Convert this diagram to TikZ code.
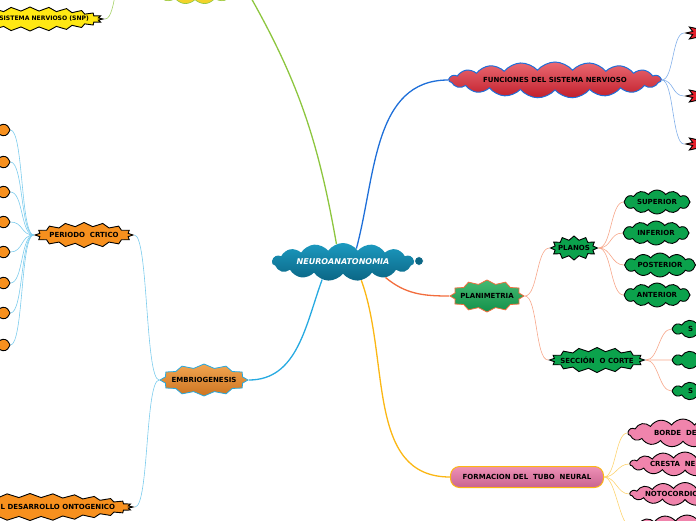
\documentclass[tikz,border=0pt]{standalone}
\usepackage{fontspec}
\setmainfont{DejaVu Sans}
\usetikzlibrary{shapes.symbols}

\definecolor{tealtop}{HTML}{1C9AC0}
\definecolor{tealbot}{HTML}{0B6685}
\definecolor{sncyel}{HTML}{F2D32A}
\definecolor{snpyel}{HTML}{FFE814}
\definecolor{linkgreen}{HTML}{8DC63F}
\definecolor{linkblue}{HTML}{1E6FD9}
\definecolor{linkred}{HTML}{F26D3D}
\definecolor{linkgold}{HTML}{FBB714}
\definecolor{linksky}{HTML}{27AAE1}
\definecolor{redtop}{HTML}{EA6972}
\definecolor{redbot}{HTML}{C11F2C}
\definecolor{redburst}{HTML}{E5202B}
\definecolor{greenfill}{HTML}{0BA24C}
\definecolor{plantop}{HTML}{45BA72}
\definecolor{planbot}{HTML}{13904A}
\definecolor{orangefill}{HTML}{F7901E}
\definecolor{embtop}{HTML}{F2A550}
\definecolor{embbot}{HTML}{CC7421}
\definecolor{pinkfill}{HTML}{F084AC}
\definecolor{formtop}{HTML}{EE90B6}
\definecolor{formbot}{HTML}{C9648F}

\tikzset{
  mmfont/.style={font=\fontsize{7}{8}\selectfont\bfseries},
  burst/.style={mmfont, starburst, starburst points=12, starburst point height=4pt, random starburst=0, draw=black, line width=0.9pt, inner sep=0pt},
  puff/.style={mmfont, cloud, cloud puffs=12, cloud puff arc=110, draw=black, line width=0.9pt, inner sep=0pt},
  mainlink/.style={line width=1.3pt},
  sublink/.style={line width=0.6pt},
}
\newcommand{\mmlabel}[1]{\makebox[0pt]{#1}}

\begin{document}
\begin{tikzpicture}[x=1pt,y=1pt]
    \useasboundingbox (0,0) rectangle (696,-520);
    \clip (0,0) rectangle (696,-520);
    % centre
    \node[cloud, cloud puffs=15, cloud puff arc=110, minimum width=142pt, minimum height=38pt, top color=tealtop, bottom color=tealbot, text=white, font=\fontsize{8}{9}\selectfont\bfseries\itshape, inner sep=0pt] (neuro) at (343,-262) {\mmlabel{NEUROANATONOMIA}};
    \node[circle, fill=tealbot, draw=white, line width=0.8pt, inner sep=0pt, minimum size=9pt] (globe) at (419,-261) {};
    % top
    \node[puff, cloud puffs=15, cloud puff arc=100, fill=sncyel, draw=linkgreen, line width=0.6pt, minimum width=98pt, minimum height=36pt] (snc) at (195,14) {};
    \node[burst, fill=snpyel, minimum width=146pt, minimum height=24pt, starburst points=24, font=\fontsize{6.1}{7}\selectfont\bfseries] (snp) at (30,-19) {\makebox[0pt][r]{SISTEMA NERVIOSO (SNP)\hspace{-59pt}}};
    \coordinate (snpparent) at (127,40);
    % funciones
    \node[puff, cloud puffs=19, cloud puff arc=100, minimum width=212pt, minimum height=36pt, top color=redtop, bottom color=redbot, draw=linkblue, line width=1pt] (funciones) at (555,-80) {\mmlabel{FUNCIONES DEL SISTEMA NERVIOSO}};
    \foreach \y [count=\i] in {33,96,144}
        \node[burst, fill=redburst, minimum width=50pt, minimum height=24pt, starburst point height=6pt] (fun\i) at (711,-\y) {};
    % planimetria
    \node[burst, minimum width=74pt, minimum height=32pt, top color=plantop, bottom color=planbot, draw=linkred, line width=0.8pt] (plan) at (487,-296) {\mmlabel{PLANIMETRIA}};
    \node[burst, fill=greenfill, minimum width=47pt, minimum height=24pt] (planos) at (574,-248) {\mmlabel{PLANOS}};
    \node[puff, fill=greenfill, minimum width=66pt, minimum height=24pt] (superior) at (657,-202) {\mmlabel{SUPERIOR}};
    \node[puff, fill=greenfill, minimum width=66pt, minimum height=24pt] (inferior) at (656,-233) {\mmlabel{INFERIOR}};
    \node[puff, fill=greenfill, minimum width=71pt, minimum height=24pt] (posterior) at (660,-265) {\mmlabel{POSTERIOR}};
    \node[puff, fill=greenfill, minimum width=66pt, minimum height=24pt] (anterior) at (657,-295) {\mmlabel{ANTERIOR}};
    \node[burst, fill=greenfill, minimum width=95pt, minimum height=25pt, starburst points=16] (seccion) at (597,-360) {\mmlabel{SECCIÓN\ \ O CORTE}};
    \node[puff, fill=greenfill, minimum width=68pt, minimum height=20pt] (corte1) at (706,-329) {\makebox[0pt][l]{\hspace{-18pt}S}};
    \node[puff, fill=greenfill, minimum width=68pt, minimum height=20pt] (corte2) at (706,-360) {};
    \node[puff, fill=greenfill, minimum width=68pt, minimum height=20pt] (corte3) at (706,-391) {\makebox[0pt][l]{\hspace{-18pt}S}};
    % formacion
    \node[mmfont, rounded corners=9pt, draw=linkgold, line width=1pt, top color=formtop, bottom color=formbot, minimum width=153pt, minimum height=21pt, inner sep=0pt] (formacion) at (527,-477) {\mmlabel{FORMACION DEL\ \ TUBO\ \ NEURAL}};
    \node[puff, cloud puffs=15, fill=pinkfill, minimum width=110pt, minimum height=28pt] (tubo1) at (683,-433) {\makebox[0pt][l]{\hspace{-29pt}BORDE\ \ DE}};
    \node[puff, cloud puffs=15, fill=pinkfill, minimum width=110pt, minimum height=24pt] (tubo2) at (685,-464) {\makebox[0pt][l]{\hspace{-35pt}CRESTA\ \ NEU}};
    \node[puff, cloud puffs=15, fill=pinkfill, minimum width=110pt, minimum height=23pt] (tubo3) at (685,-494) {\makebox[0pt][l]{\hspace{-40pt}NOTOCORDIC}};
    \node[puff, cloud puffs=15, fill=pinkfill, minimum width=110pt, minimum height=24pt] (tubo4) at (687,-527) {};
    % embriogenesis
    \node[burst, minimum width=88pt, minimum height=32pt, top color=embtop, bottom color=embbot, draw=linksky, line width=0.8pt] (embrio) at (204,-380) {\mmlabel{EMBRIOGENESIS}};
    \node[burst, fill=orangefill, minimum width=98pt, minimum height=25pt, starburst points=16] (periodo) at (84,-235) {\mmlabel{PERIODO\ \ CRTICO}};
    \foreach \y [count=\i] in {130,162,192,222,252,283,313,345}
        \node[puff, fill=orangefill, minimum width=70pt, minimum height=22pt] (etapa\i) at (-25,-\y) {};
    \node[burst, fill=orangefill, minimum width=206pt, minimum height=27pt, starburst points=28] (ontogenico) at (30,-507) {\makebox[0pt][r]{L DESARROLLO ONTOGENICO\hspace{-85pt}}};
    % main branches
    \draw[mainlink, linkblue] (neuro.45) to[out=75,in=180] (funciones.west);
    \draw[mainlink, linkgreen] (neuro.110) to[out=100,in=-60] (snc.east);
    \draw[mainlink, linkred] (neuro.-20) to[out=-40,in=180] (plan.west);
    \draw[mainlink, linkgold] (neuro.-45) to[out=-70,in=180] (formacion.west);
    \draw[mainlink, linksky] (neuro.-140) to[out=-110,in=0] (embrio.east);
    % sub branches
    \draw[sublink, linkgreen!80] (snpparent) to[out=180,in=0,distance=12pt] (snp.east);
    \foreach \i in {1,2,3}
        \draw[sublink, linkblue!55] (funciones.east) to[out=0,in=180,distance=12pt] (fun\i.west);
    \foreach \n in {planos,seccion}
        \draw[sublink, linkred!60] (plan.east) to[out=0,in=180,distance=13pt] (\n.west);
    \foreach \n in {superior,inferior,posterior,anterior}
        \draw[sublink, linkred!60] (planos.east) to[out=0,in=180,distance=13pt] (\n.west);
    \foreach \i in {1,2,3}
        \draw[sublink, linkred!60] (seccion.east) to[out=0,in=180,distance=13pt] (corte\i.west);
    \foreach \i in {1,...,4}
        \draw[sublink, linkgold!60] (formacion.east) to[out=0,in=180,distance=12pt] (tubo\i.west);
    \foreach \n in {periodo,ontogenico}
        \draw[sublink, linksky!60] (embrio.west) to[out=180,in=0,distance=14pt] (\n.east);
    \foreach \i in {1,...,8}
        \draw[sublink, linksky!60] (periodo.west) to[out=180,in=0,distance=13pt] (etapa\i.east);
\end{tikzpicture}
\end{document}
